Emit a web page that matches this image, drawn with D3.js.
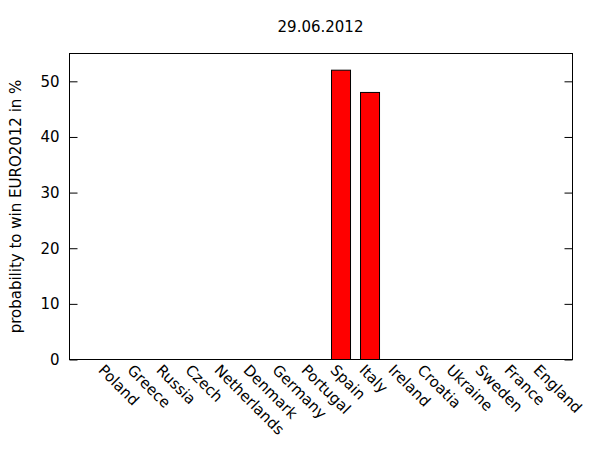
<!DOCTYPE html>
<html>
<head>
<meta charset="utf-8">
<script src="https://cdn.jsdelivr.net/npm/d3@7"></script>
<style>
  html, body { margin: 0; padding: 0; background: #fff; }
  text { font-family: "DejaVu Sans", sans-serif; fill: #000; }
</style>
</head>
<body>
<svg id="chart" width="600" height="450"></svg>
<script>
const categories = ["Poland","Greece","Russia","Czech","Netherlands","Denmark","Germany","Portugal","Spain","Italy","Ireland","Croatia","Ukraine","Sweden","France","England"];
const values = [0,0,0,0,0,0,0,0,52,48,0,0,0,0,0,0];
const yTicks = [0,10,20,30,40,50];
const titleText = "29.06.2012";
const yLabelText = "probability to win EURO2012 in %";

(function () {
const svg = d3.select("#chart");
const pL = 69.5, pR = 572.5, pT = 53.5, pB = 359.5;
const fs = 15;

const x = d3.scaleLinear().domain([-1.36, 15.98]).range([pL, pR]);
const y = d3.scaleLinear().domain([0, 55]).range([pB, pT]);
const boxW = 0.655;

svg.append("rect").attr("width", 600).attr("height", 450).attr("fill", "#fff");

// bars
svg.append("g").selectAll("rect").data(values).join("rect")
  .attr("x", (d, i) => x(i - boxW / 2))
  .attr("width", (d, i) => x(i + boxW / 2) - x(i - boxW / 2))
  .attr("y", d => y(d))
  .attr("height", d => y(0) - y(d))
  .attr("fill", "#ff0000")
  .attr("stroke", "#000")
  .attr("stroke-width", 1);

// y axis left
const yAxisL = d3.axisLeft(y).tickValues(yTicks).tickSizeInner(-8).tickSizeOuter(0).tickPadding(10);
const gL = svg.append("g").attr("transform", `translate(${pL},0)`).call(yAxisL);
gL.select(".domain").remove();
gL.selectAll("text").attr("font-size", fs).attr("font-family", "DejaVu Sans");
gL.selectAll("line").attr("stroke", "#000");

// y axis right mirror
const yAxisR = d3.axisRight(y).tickValues(yTicks).tickSizeInner(-8).tickSizeOuter(0).tickFormat("");
const gR = svg.append("g").attr("transform", `translate(${pR},0)`).call(yAxisR);
gR.select(".domain").remove();
gR.selectAll("line").attr("stroke", "#000");

// frame
svg.append("rect").attr("x", pL).attr("y", pT)
  .attr("width", pR - pL).attr("height", pB - pT)
  .attr("fill", "none").attr("stroke", "#000").attr("stroke-width", 1);

// x labels
svg.append("g").selectAll("text").data(categories).join("text")
  .attr("transform", (d, i) => `translate(${x(i) - 8},${pB + 8}) rotate(45)`)
  .attr("text-anchor", "start")
  .attr("dominant-baseline", "central")
  .attr("font-size", fs)
  .text(d => d);

// title
svg.append("text").attr("x", 320.5).attr("y", 32)
  .attr("text-anchor", "middle").attr("font-size", fs).text(titleText);

// y label
svg.append("text")
  .attr("transform", `translate(21,${(pT + pB) / 2}) rotate(-90)`)
  .attr("text-anchor", "middle").attr("font-size", fs).text(yLabelText);
})();
</script>
</body>
</html>
